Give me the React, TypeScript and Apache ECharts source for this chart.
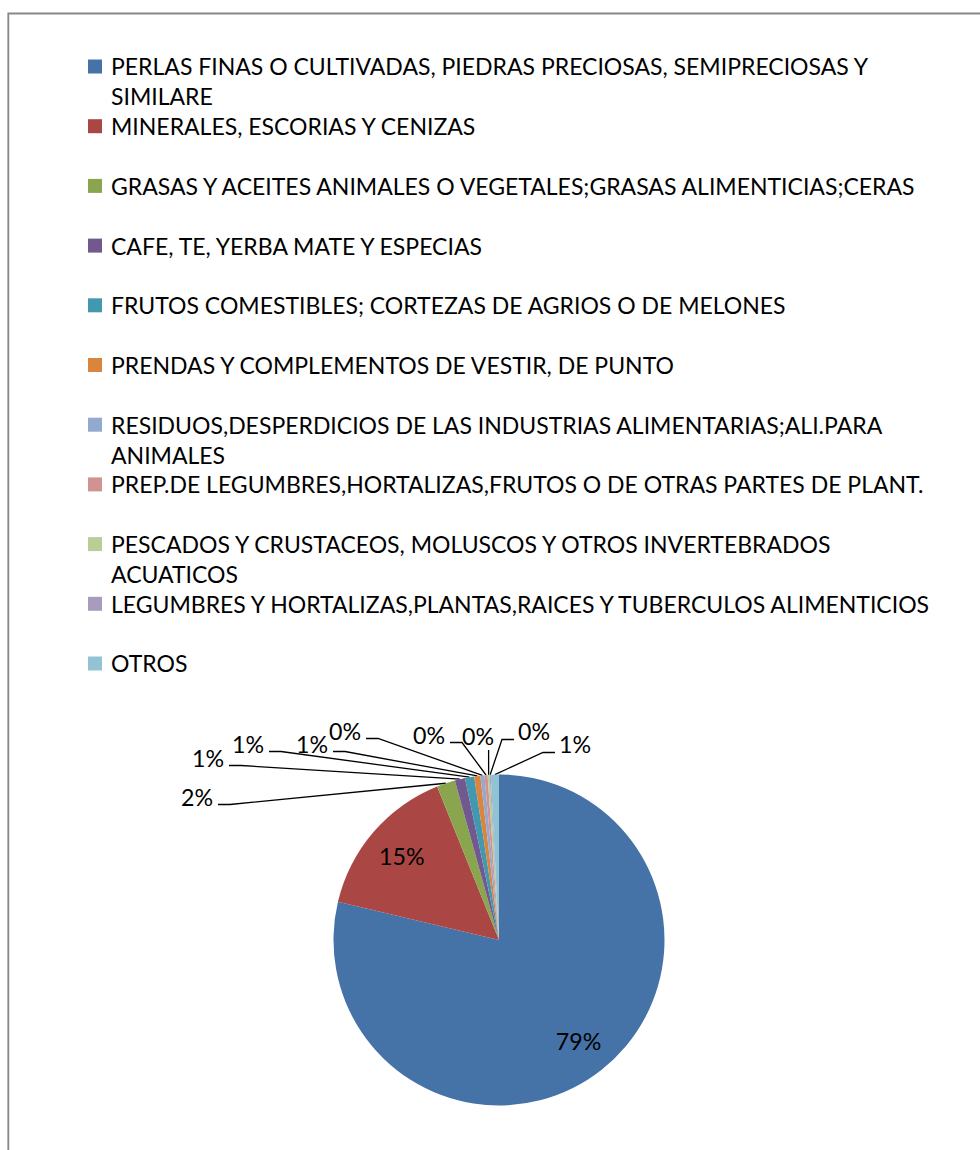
import React, { useEffect, useRef } from 'react';
import * as echarts from 'echarts';

// ---- data ----
const CATEGORIES = [
  'PERLAS FINAS O CULTIVADAS, PIEDRAS PRECIOSAS, SEMIPRECIOSAS Y SIMILARE',
  'MINERALES, ESCORIAS Y CENIZAS',
  'GRASAS Y ACEITES ANIMALES O VEGETALES;GRASAS ALIMENTICIAS;CERAS',
  'CAFE, TE, YERBA MATE Y ESPECIAS',
  'FRUTOS COMESTIBLES; CORTEZAS DE AGRIOS O DE MELONES',
  'PRENDAS Y COMPLEMENTOS DE VESTIR, DE PUNTO',
  'RESIDUOS,DESPERDICIOS DE LAS INDUSTRIAS ALIMENTARIAS;ALI.PARA ANIMALES',
  'PREP.DE LEGUMBRES,HORTALIZAS,FRUTOS O DE OTRAS PARTES DE PLANT.',
  'PESCADOS Y CRUSTACEOS, MOLUSCOS Y OTROS INVERTEBRADOS ACUATICOS',
  'LEGUMBRES Y HORTALIZAS,PLANTAS,RAICES Y TUBERCULOS ALIMENTICIOS',
  'OTROS',
];
const SHARES = [78.7, 15.2, 1.8, 1.0, 0.9, 0.6, 0.4, 0.3, 0.2, 0.1, 0.8];

// ---- styles / layout ----
const COLORS = [
  '#4572A7', '#AA4643', '#89A54E', '#71588F', '#4198AF', '#DB843D',
  '#93A9CF', '#D19392', '#B9CD96', '#A99BBD', '#92C3D5',
];
const FONT = 'Lato';
const CX = 499;
const CY = 940;
const R = 165.5;
const INSIDE_COUNT = 2;
const INSIDE_RATIO = 0.775;
// text centres of the outside labels, relative to the pie centre (Excel "best fit" placement)
const OUTSIDE_LABEL_OFFSETS: [number, number][] = [
  [-302, -143], [-291, -182], [-251, -196], [-187, -196], [-154, -209],
  [-70, -205], [-21, -204], [35, -209], [76, -196],
];
const LINE_H = 29.85;

export default function App() {
  const ref = useRef<HTMLDivElement>(null);
  useEffect(() => {
    if (!ref.current) return;
    const ctx = document.createElement('canvas').getContext('2d')!;
    const measure = (t: string, size: number) => {
      ctx.font = `${size}px ${FONT}`;
      return ctx.measureText(t).width;
    };
    const legendSize = (100 * 809) / measure(CATEGORIES[2], 100);
    const labelSize = (100 * 45.5) / measure('79%', 100);
    const wrap = (name: string) => {
      const words = name.split(' ');
      const lines: string[] = [];
      let cur = '';
      for (const w of words) {
        const t = cur ? cur + ' ' + w : w;
        if (cur && measure(t, legendSize) > 838) {
          lines.push(cur);
          cur = w;
        } else cur = t;
      }
      lines.push(cur);
      while (lines.length < 2) lines.push('');
      return lines.join('\n');
    };

    const total = SHARES.reduce((a, b) => a + b, 0);
    const cum: number[] = [];
    SHARES.reduce((acc, v) => {
      cum.push(acc + v / 2);
      return acc + v;
    }, 0);

    const chart = echarts.init(ref.current, undefined, { renderer: 'svg' });
    const sq = 14;
    const boxW = 18;
    const boxH = LINE_H * 2;
    const sqTop = LINE_H / 2 - sq / 2;
    chart.setOption({
      animation: false,
      backgroundColor: '#ffffff',
      color: COLORS,
      graphic: [
        {
          type: 'rect',
          shape: { x: 8.3, y: 13.5, width: 1200, height: 1400 },
          style: { fill: 'none', stroke: '#878787', lineWidth: 1.8 },
          silent: true,
        },
      ],
      legend: {
        orient: 'vertical',
        left: 88,
        top: 66.5 - LINE_H / 2,
        padding: 0,
        itemGap: 0,
        itemWidth: boxW,
        itemHeight: boxH,
        icon: `path://M0,0 M${boxW},${boxH} M0,${sqTop}h${sq}v${sq}h-${sq}z`,
        selectedMode: false,
        formatter: (name: string) => wrap(name),
        textStyle: {
          fontFamily: FONT,
          fontSize: legendSize,
          lineHeight: LINE_H,
          color: '#000000',
        },
        data: CATEGORIES,
      },
      series: [
        {
          type: 'pie',
          center: [CX, CY],
          radius: R,
          startAngle: 90,
          clockwise: true,
          avoidLabelOverlap: false,
          percentPrecision: 0,
          itemStyle: { borderWidth: 0 },
          label: {
            show: true,
            position: 'outside',
            formatter: '{d}%',
            fontFamily: FONT,
            fontSize: labelSize,
            color: '#000000',
          },
          labelLine: {
            show: true,
            length: 10,
            length2: 10,
            lineStyle: { color: '#000000', width: 1.3 },
          },
          emphasis: { disabled: true },
          labelLayout: (p: any) => {
            const i = p.dataIndex;
            const w = p.labelRect.width;
            if (i < INSIDE_COUNT) {
              const th = (2 * Math.PI * cum[i]) / total;
              return {
                x: CX + INSIDE_RATIO * R * Math.sin(th),
                y: CY - INSIDE_RATIO * R * Math.cos(th),
                align: 'center',
                verticalAlign: 'middle',
              };
            }
            const [dx, dy] = OUTSIDE_LABEL_OFFSETS[i - INSIDE_COUNT];
            const lx = CX + dx;
            const ly = CY + dy;
            const pts = p.labelLinePoints;
            const p0 = pts ? pts[0] : [CX, CY - R];
            const yl = ly + 7.5;
            let p1: number[];
            let p2: number[];
            if (lx + w / 2 < p0[0] - 6) {
              p2 = [lx + w / 2 + 5, yl];
              p1 = [lx + w / 2 + 17, yl];
            } else if (lx - w / 2 > p0[0] + 6) {
              p2 = [lx - w / 2 - 4, yl + 1];
              p1 = [lx - w / 2 - 16, yl + 1];
            } else {
              p2 = [p0[0], ly + 14];
              p1 = [p0[0], ly + 14];
            }
            return {
              x: lx,
              y: ly,
              align: 'center',
              verticalAlign: 'middle',
              labelLinePoints: [p0, p1, p2],
            };
          },
          data: CATEGORIES.map((name, i) => ({
            name,
            value: SHARES[i],
            label: i < INSIDE_COUNT ? { position: 'inside' } : undefined,
            labelLine: i < INSIDE_COUNT ? { show: false } : undefined,
          })),
        },
      ],
    });
    return () => chart.dispose();
  }, []);
  return (
    <div
      ref={ref}
      style={{ position: 'absolute', left: 0, top: 0, width: 980, height: 1150 }}
    />
  );
}
